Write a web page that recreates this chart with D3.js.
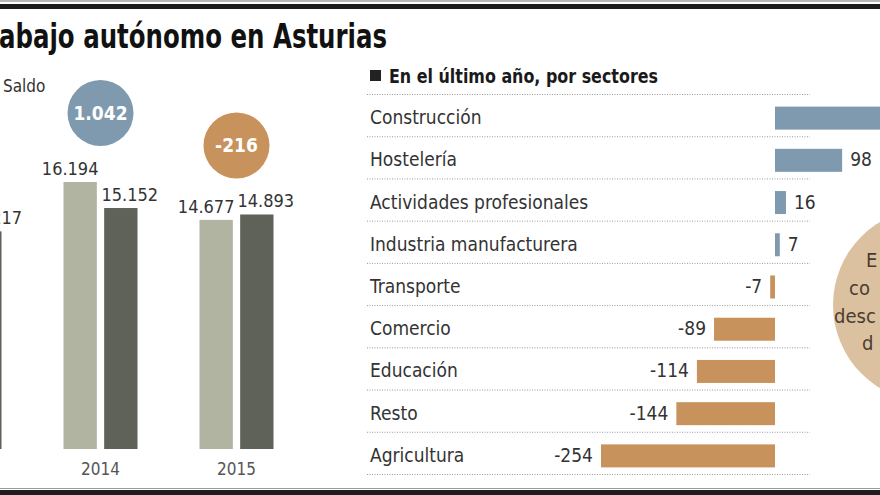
<!DOCTYPE html>
<html><head><meta charset="utf-8">
<script src="https://cdn.jsdelivr.net/npm/d3@7"></script>
<style>
html,body{margin:0;padding:0;background:#fff;}
svg{display:block;}
text{font-family:"Liberation Sans Narrow","DejaVu Sans Condensed","Liberation Sans",sans-serif;}
</style></head>
<body>
<svg id="c" width="880" height="495"></svg>
<script>
// ---- data ----
const titleText = "abajo autónomo en Asturias";
const legendSaldo = "Saldo";
const years = ["2013", "2014", "2015"];
const altas = [null, 16194, 14677];
const bajas = [14217, 15152, 14893];
const saldo = [null, 1042, -216];
const sectorTitle = "En el último año, por sectores";
const sectors = ["Construcción", "Hostelería", "Actividades profesionales", "Industria manufacturera",
  "Transporte", "Comercio", "Educación", "Resto", "Agricultura"];
const sectorValues = [271, 98, 16, 7, -7, -89, -114, -144, -254];
const noteLines = ["E", "co", "desc", "d"];

const svg = d3.select("#c");
const W = 880, H = 495;
const locale = d3.formatLocale({decimal: ",", thousands: ".", grouping: [3], currency: ["", "€"], minus: "-"});
const fmt = locale.format(",d");

const C = {light: "#b1b4a1", dark: "#5f6259", blue: "#7f9aae", orange: "#c8925d", text: "#333", beige: "#dcc1a1"};

// frame lines
svg.append("rect").attr("x", 0).attr("y", 0).attr("width", W).attr("height", 2).attr("fill", "#b8b8b8");
svg.append("rect").attr("x", 0).attr("y", 4).attr("width", W).attr("height", 5).attr("fill", "#1c1c1c");
svg.append("rect").attr("x", 0).attr("y", 488).attr("width", W).attr("height", 1).attr("fill", "#9a9a9a");
svg.append("rect").attr("x", 0).attr("y", 490).attr("width", W).attr("height", 5).attr("fill", "#1e1e1e");

function fitText(sel, w) {
  const n = sel.node(); const l = n.getComputedTextLength();
  if (Math.abs(l - w) > 2) sel.attr("textLength", w).attr("lengthAdjust", "spacingAndGlyphs");
}

// title
const title = svg.append("text").attr("x", -1).attr("y", 48)
  .attr("font-size", 34).attr("font-weight", "bold").attr("fill", "#111")
  .text(titleText);
fitText(title, 388);

// ---- left: grouped bars ----
svg.append("text").attr("x", 3).attr("y", 92).attr("font-size", 17).attr("fill", C.text).text(legendSaldo);

const base = 449;
const x0 = d3.scalePoint().domain(years).range([-35.5, 236.5]);
const x1 = d3.scaleBand().domain(["altas", "bajas"]).range([-37, 37]).paddingInner(0.18);
const y = d3.scaleLinear().domain([5500, 16194]).range([base, 182]);

const groups = years.map((yr, i) => ({yr, i, altas: altas[i], bajas: bajas[i], saldo: saldo[i]}));
const g = svg.append("g");
groups.forEach(d => {
  const cx = x0(d.yr);
  const series = [{k: "altas", v: d.altas, col: C.light, dx: -10}, {k: "bajas", v: d.bajas, col: C.dark, dx: 9}];
  series.forEach(s => {
    if (s.v == null) return;
    g.append("rect").attr("x", cx + x1(s.k)).attr("y", y(s.v))
      .attr("width", x1.bandwidth()).attr("height", base - y(s.v)).attr("fill", s.col);
    g.append("text").attr("x", cx + x1(s.k) + x1.bandwidth() / 2 + s.dx).attr("y", y(s.v) - 7)
      .attr("text-anchor", "middle").attr("font-size", 18).attr("fill", C.text).text(fmt(s.v));
  });
  if (d.altas != null) {
    g.append("text").attr("x", cx).attr("y", 475).attr("text-anchor", "middle")
      .attr("font-size", 17).attr("fill", "#555").text(d.yr);
  }
  if (d.saldo != null) {
    const top = y(Math.max(d.altas, d.bajas));
    const cy = top - 69;
    g.append("circle").attr("cx", cx).attr("cy", cy).attr("r", 33)
      .attr("fill", d.saldo >= 0 ? C.blue : C.orange);
    g.append("text").attr("x", cx).attr("y", cy + 7).attr("text-anchor", "middle")
      .attr("font-size", 19).attr("font-weight", "bold").attr("fill", "#fff").text(fmt(d.saldo));
  }
});

// ---- right: sectors ----
// beige note circle (behind)
svg.append("circle").attr("cx", 930).attr("cy", 305).attr("r", 97).attr("fill", C.beige);
const noteY = [267, 295, 323, 350];
const noteX = [866, 849, 834, 862];
noteLines.forEach((t, i) => {
  svg.append("text").attr("x", noteX[i]).attr("y", noteY[i]).attr("font-size", 20).attr("fill", "#4a3d30").text(t);
});

svg.append("rect").attr("x", 370).attr("y", 70).attr("width", 11).attr("height", 11).attr("fill", "#222");
const st = svg.append("text").attr("x", 389).attr("y", 83).attr("font-size", 19).attr("font-weight", "bold")
  .attr("fill", "#1a1a1a").text(sectorTitle);
fitText(st, 269);

const ry = d3.scaleBand().domain(sectors).range([94, 474]);
const sx = d3.scaleLinear().domain([0, 100]).range([775, 843.5]);

const rows = svg.append("g");
// dotted separators
const seps = [94].concat(sectors.map(s => ry(s) + ry.bandwidth()));
seps.forEach(yy => {
  rows.append("line").attr("x1", 367).attr("x2", 810).attr("y1", yy + 0.5).attr("y2", yy + 0.5)
    .attr("stroke", "#9a9a9a").attr("stroke-width", 1).attr("stroke-dasharray", "1,1.5");
});
sectors.forEach((s, i) => {
  const v = sectorValues[i];
  const cy = ry(s) + ry.bandwidth() / 2 + 3;
  rows.append("text").attr("x", 370).attr("y", cy + 6).attr("font-size", 19)
    .attr("fill", C.text).text(s);
  const x = Math.min(sx(0), sx(v)), w = Math.abs(sx(v) - sx(0));
  rows.append("rect").attr("x", x).attr("y", cy - 11.5).attr("width", w).attr("height", 23)
    .attr("fill", v >= 0 ? C.blue : C.orange);
  const lx = v >= 0 ? sx(v) + 8 : sx(v) - 8;
  if (lx < W) {
    rows.append("text").attr("x", lx).attr("y", cy + 6)
      .attr("text-anchor", v >= 0 ? "start" : "end").attr("font-size", 19).attr("fill", C.text)
      .text(v);
  }
});
</script>
</body></html>
